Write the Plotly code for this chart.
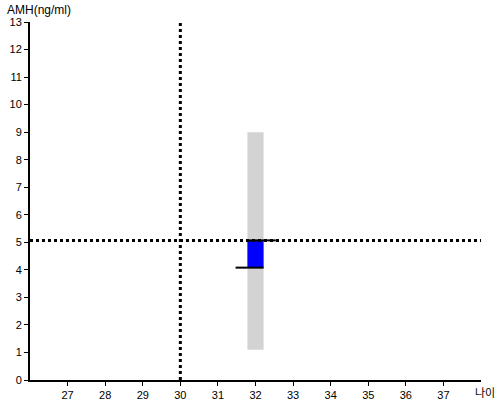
import plotly.graph_objects as go

# valores
age_ticks = [27, 28, 29, 30, 31, 32, 33, 34, 35, 36, 37]
amh_ticks = list(range(0, 14))

ref_age = 30
ref_amh = 5.07

range_age = [32]
range_low = [1.1]
range_high = [9.0]

patient_age = [32]
patient_low = [4.08]
patient_high = [5.07]

upper_line_x = [31.785, 32.54]
lower_line_x = [31.47, 32.215]

fig = go.Figure()

fig.add_trace(go.Bar(
    x=range_age, y=[range_high[0] - range_low[0]], base=range_low,
    width=0.43, marker=dict(color='#d3d3d3', line=dict(width=0)),
    hoverinfo='skip'
))
fig.add_trace(go.Bar(
    x=patient_age, y=[patient_high[0] - patient_low[0]], base=patient_low,
    width=0.43, marker=dict(color='#0000ff', line=dict(width=0)),
    hoverinfo='skip'
))

# linhas de referência pontilhadas
fig.add_trace(go.Scatter(
    x=[26, 38], y=[ref_amh, ref_amh], mode='lines',
    line=dict(color='black', width=3, dash='dot'), hoverinfo='skip'
))
fig.add_trace(go.Scatter(
    x=[ref_age, ref_age], y=[0, 13], mode='lines',
    line=dict(color='black', width=3, dash='dot'), hoverinfo='skip'
))

# traços pretos
fig.add_trace(go.Scatter(
    x=upper_line_x, y=[patient_high[0]] * 2, mode='lines',
    line=dict(color='black', width=2), hoverinfo='skip'
))
fig.add_trace(go.Scatter(
    x=lower_line_x, y=[patient_low[0]] * 2, mode='lines',
    line=dict(color='black', width=2), hoverinfo='skip'
))

fig.update_layout(
    width=500, height=400,
    margin=dict(l=30, r=19, t=22, b=20, autoexpand=False),
    paper_bgcolor='white', plot_bgcolor='white',
    showlegend=False, barmode='overlay',
    font=dict(family='Liberation Sans, Arial', size=11, color='black'),
)
fig.update_xaxes(
    range=[26, 38], tickvals=age_ticks, ticktext=[str(a) for a in age_ticks],
    showgrid=False, zeroline=False, showline=True, linecolor='black', linewidth=2,
    ticks='outside', ticklen=4, tickcolor='black', tickfont=dict(size=11),
    automargin=False,
)
fig.update_yaxes(
    range=[0, 13], tickvals=amh_ticks, showgrid=False, zeroline=False,
    showline=True, linecolor='black', linewidth=2,
    ticks='outside', ticklen=4, tickcolor='black', tickfont=dict(size=11),
    automargin=False,
)

fig.add_annotation(
    text='AMH(ng/ml)', xref='paper', yref='paper', x=-0.055, y=1.0335,
    xanchor='left', yanchor='middle', showarrow=False, font=dict(size=12)
)
fig.add_annotation(
    text='나이', xref='paper', yref='paper', x=0.982, y=-0.0335,
    xanchor='left', yanchor='middle', showarrow=False,
    font=dict(size=11, family='Noto Sans CJK KR')
)

# tira a margem padrão do body para o gráfico ocupar a janela inteira
fig.write_html("out.html", config={'displayModeBar': False},
               post_script="document.body.style.margin='0px';")
